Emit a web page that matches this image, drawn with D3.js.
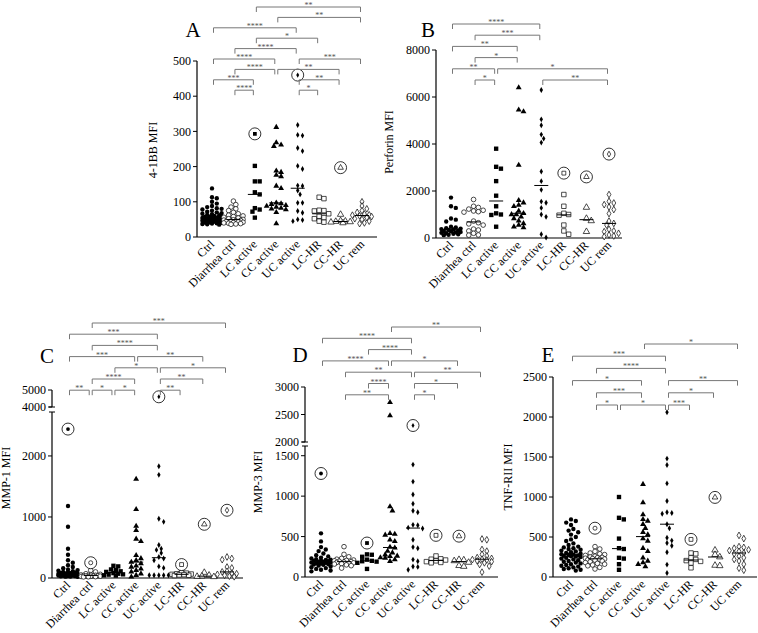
<!DOCTYPE html>
<html>
<head>
<meta charset="utf-8">
<script src="https://cdn.jsdelivr.net/npm/d3@7"></script>
<style>
body { margin: 0; background: #fff; }
svg { display: block; }
text { font-family: "Liberation Serif", "DejaVu Serif", serif; }
</style>
</head>
<body>
<script>
var cats = ["Ctrl", "Diarrhea ctrl", "LC active", "CC active", "UC active", "LC-HR", "CC-HR", "UC rem"];

// 4-1BB
var bbVals = [
    [138,113,110,100,95,88,85,82,80,78,75,72,70,68,66,65,63,62,60,58,57,56,55,55,54,53,52,51,50,50,49,48,47,46,45,44,43,42,41,40,39,38,37,36,35],
    [102,92,85,80,75,70,66,62,60,58,56,54,52,50,49,48,47,46,45,44,43,42,41,40,39,38,37,36],
    [202,158,158,127,121,82,78,72,55],
    [312,268,262,258,188,184,176,172,145,138,97,95,93,90,88,85,82,80,78,70,38],
    [318,290,288,253,244,202,193,146,145,132,121,97,97,74,69,50,48,45],
    [113,109,76,75,74,66,59,55,52,45,42],
    [64,46,45,44,43,42,40],
    [100,88,80,75,70,65,63,62,60,58,55,52,50,45,40,38]
];
var bbOut = [null, null, 293, null, 460, null, 197, null];
var bbTicks = [0, 100, 200, 300, 400, 500];
var bbSig = [
    [[2,7,"**"]],
    [[3,7,"**"]],
    [[0,4,"****"]],
    [[2,5,"*"]],
    [[1,4,"****"]],
    [[0,3,"****"],[4,7,"***"]],
    [[1,3,"****"],[3,6,"**"]],
    [[0,2,"***"],[4,6,"**"]],
    [[1,2,"****"],[4,5,"*"]]
];

// Perforin
var pfVals = [
    [1720,1350,1280,830,780,700,480,450,420,400,380,360,340,320,300,280,260,240,220,200,180,160,140,120],
    [1640,1350,1300,1230,1180,1150,1120,1100,720,650,600,550,380,340,300,200,130,120],
    [3800,3030,2950,2420,1800,1350,1050,1000,980,480],
    [6400,5450,5380,3100,1600,1500,1400,1350,1150,1050,1000,1000,900,830,730,620,550,480,440],
    [6300,5050,4800,4400,4230,4060,2830,2420,2050,1550,1500,1280,1000,900,160,20],
    [1850,1350,1050,1000,970,550,300,160],
    [1300,830,730,270],
    [1850,1560,1490,1420,1320,1210,1040,720,620,550,370,300,270,200,130,85,60]
];
var pfOut = [null, null, null, null, null, 2760, 2600, 3570];
var pfTicks = [0, 2000, 4000, 6000, 8000];
var pfSig = [
    [[0,4,"****"]],
    [[1,4,"***"]],
    [[0,3,"**"]],
    [[1,3,"*"]],
    [[0,2,"**"],[2,7,"*"]],
    [[1,2,"*"],[4,7,"**"]]
];

// MMP-1
var m1Vals = [
    [1180,840,480,380,290,250,210,180,160,140,130,120,110,100,95,90,85,80,75,70,65,60,58,55,52,50,48,45,42,40,38,35,32,30,28,25,22,20],
    [220,125,100,70,60,55,50,45,42,40,38,35,32,30,28,25,22,20,18],
    [200,190,140,130,110,100,80,70,60,55,45,40],
    [1620,1125,850,780,640,600,370,320,290,260,235,200,180,150,125,100,70,45,20],
    [1830,1690,970,920,540,480,460,410,345,320,290,190,165,45,45,45,45,45],
    [90,80,70,65,60,55,50,45,40],
    [90,45,30,25,20],
    [345,320,300,180,165,110,100,80,70,60,45,30,20]
];
var m1Out = [2440, 250, null, null, 4600, 220, 880, 1110];
var m1TicksLow = [0, 1000, 2000];
var m1TicksHigh = [4000, 5000];
var m1Sig = [
    [[1,7,"***"]],
    [[0,4,"***"]],
    [[1,4,"****"]],
    [[0,3,"***"],[3,6,"**"]],
    [[2,4,"*"],[4,7,"*"]],
    [[1,3,"****"],[4,6,"**"]],
    [[0,1,"**"],[1,2,"*"],[2,3,"*"],[4,5,"**"]]
];

// MMP-3
var m3Vals = [
    [540,440,370,340,320,290,270,255,240,230,220,215,210,205,200,195,190,185,180,178,175,170,165,160,155,150,140,130,120,110,100,90,80,70],
    [375,280,250,230,220,210,205,200,195,190,185,180,175,170,165,160,150,140,110],
    [280,275,250,215,200,195,190,175,100],
    [2720,2480,870,820,540,530,520,460,440,370,360,320,300,275,260,255,240,235,215,195],
    [1390,1180,1020,905,820,800,645,640,610,600,460,370,355,215,195,130,125,90],
    [260,225,220,210,200,190,180,175],
    [215,210,200,180,140,130],
    [470,460,340,320,280,260,240,230,220,215,210,200,190,175,155,135,60]
];
var m3Out = [1280, null, 420, null, 2300, 515, 505, null];
var m3TicksLow = [0, 500, 1000, 1500];
var m3TicksHigh = [2000, 2500, 3000];
var m3Sig = [
    [[3,7,"**"]],
    [[0,4,"****"]],
    [[2,4,"****"]],
    [[0,3,"****"],[3,6,"*"]],
    [[1,4,"**"],[4,7,"**"]],
    [[2,3,"****"],[4,6,"*"]],
    [[1,3,"**"],[4,5,"*"]]
];

// TNF-RII
var tnVals = [
    [720,700,680,650,600,580,560,530,500,470,450,420,400,380,370,360,350,340,330,320,310,300,290,285,280,275,270,265,260,255,250,240,230,220,210,200,190,180,170,160,150,140,130,120,110,100,90,80],
    [380,350,320,300,290,280,270,260,250,245,240,235,230,225,220,215,210,200,190,180,170,160,150,140,120,100],
    [1000,740,720,480,360,350,240,230,160,90],
    [1160,930,780,720,700,660,610,560,530,480,450,360,320,240,200,180,160,130],
    [2060,1480,1400,1170,950,810,800,790,660,610,490,455,425,390,310,155,50],
    [300,290,240,220,205,195,175,115],
    [335,280,250,145,140],
    [520,480,380,370,360,340,330,320,300,290,260,240,220,200,160,110,85]
];
var tnOut = [null, 610, null, null, null, 470, 995, null];
var tnTicks = [0, 500, 1000, 1500, 2000, 2500];
var tnSig = [
    [[3,7,"*"]],
    [[0,4,"***"]],
    [[1,4,"****"]],
    [[0,3,"*"],[4,7,"**"]],
    [[1,3,"***"],[4,6,"*"]],
    [[1,2,"*"],[2,4,"*"],[4,5,"***"]]
];

// marker per group: symbol + filled or open
var marks = [
    {t: d3.symbolCircle, fill: true, s: 15},
    {t: d3.symbolCircle, fill: false, s: 17},
    {t: d3.symbolSquare, fill: true, s: 19},
    {t: d3.symbolTriangle, fill: true, s: 15},
    {t: d3.symbolDiamond, fill: true, s: 10},
    {t: d3.symbolSquare, fill: false, s: 20},
    {t: d3.symbolTriangle, fill: false, s: 18},
    {t: d3.symbolDiamond, fill: false, s: 13}
];

var panels = [
    {letter: "A", label: "4-1BB MFI", vals: bbVals, out: bbOut, sig: bbSig,
     segs: [{dom: [0, 500], rng: [237, 61], ticks: bbTicks}],
     xr: [212, 362], ax: 197, axEnd: 377, sigTop: 7, sigStep: 10.4,
     lx: 193, ly: 37, yl: [157, 150]},
    {letter: "B", label: "Perforin MFI", vals: pfVals, out: pfOut, sig: pfSig,
     segs: [{dom: [0, 8000], rng: [238, 50], ticks: pfTicks}],
     xr: [451, 609], ax: 436, axEnd: 622, sigTop: 24, sigStep: 11.2,
     lx: 428, ly: 37, yl: [393, 142]},
    {letter: "C", label: "MMP-1 MFI", vals: m1Vals, out: m1Out, sig: m1Sig,
     segs: [{dom: [0, 2720], rng: [578, 412], ticks: m1TicksLow},
            {dom: [4000, 5000], rng: [407, 390], ticks: m1TicksHigh}],
     xr: [68, 227], ax: 52, axEnd: 243, sigTop: 323, sigStep: 11.2,
     lx: 47, ly: 363, yl: [10, 478]},
    {letter: "D", label: "MMP-3 MFI", vals: m3Vals, out: m3Out, sig: m3Sig,
     segs: [{dom: [0, 1620], rng: [577, 446], ticks: m3TicksLow},
            {dom: [2000, 3000], rng: [442, 387], ticks: m3TicksHigh}],
     xr: [321, 482], ax: 305, axEnd: 498, sigTop: 327, sigStep: 11.3,
     lx: 300, ly: 362, yl: [262, 482]},
    {letter: "E", label: "TNF-RII MFI", vals: tnVals, out: tnOut, sig: tnSig,
     segs: [{dom: [0, 2500], rng: [577, 377], ticks: tnTicks}],
     xr: [571, 739], ax: 553, axEnd: 757, sigTop: 344, sigStep: 12.2,
     lx: 548, ly: 362, yl: [512, 477]}
];

var svg = d3.select("body").append("svg")
    .attr("width", 758)
    .attr("height", 633);

function swarm(pts, cx, step, minD, maxW) {
    var placed = [];
    pts.sort(function(a, b) { return a.y - b.y; });
    pts.forEach(function(p) {
        var best = cx, bestD = -1;
        var n = Math.floor(maxW / step);
        for (var k = 0; k <= 2 * n; k++) {
            var off = (k % 2 ? 1 : -1) * Math.ceil(k / 2) * step;
            var x = cx + off;
            var d = d3.min(placed, function(q) { return Math.hypot(q.x - x, q.y - p.y); });
            if (d === undefined || d >= minD) { best = x; bestD = 99; break; }
            if (d > bestD) { bestD = d; best = x; }
        }
        p.x = best;
        placed.push(p);
    });
    return pts;
}

panels.forEach(function(P) {
    var g = svg.append("g");
    var scales = P.segs.map(function(s) {
        return d3.scaleLinear().domain(s.dom).range(s.rng);
    });
    var y = function(v) {
        for (var i = 0; i < scales.length; i++) {
            var d = scales[i].domain();
            if (v <= d[1] || i === scales.length - 1) return scales[i](v);
        }
    };
    var x = d3.scalePoint().domain(cats).range(P.xr);
    var y0 = P.segs[0].rng[0];

    // y axis segments
    P.segs.forEach(function(s, i) {
        var sc = scales[i];
        g.append("line")
            .attr("x1", P.ax).attr("x2", P.ax)
            .attr("y1", s.rng[0]).attr("y2", s.rng[1])
            .attr("stroke", "#000").attr("stroke-width", 1.2);
        var tk = s.ticks.slice();
        g.selectAll(null).data(tk).enter().append("line")
            .attr("x1", P.ax - 4).attr("x2", P.ax)
            .attr("y1", function(d) { return sc(d); })
            .attr("y2", function(d) { return sc(d); })
            .attr("stroke", "#000");
        g.selectAll(null).data(tk).enter().append("text")
            .attr("x", P.ax - 6)
            .attr("y", function(d) { return sc(d); })
            .attr("dy", "0.35em")
            .attr("text-anchor", "end")
            .attr("font-size", 12)
            .text(function(d) { return d; });
        if (P.segs.length > 1) {
            // small end caps at the break
            var yb = i === 0 ? s.rng[1] : s.rng[0];
            g.append("line")
                .attr("x1", P.ax - 3).attr("x2", P.ax + 3)
                .attr("y1", yb).attr("y2", yb)
                .attr("stroke", "#000");
        }
    });

    // x axis
    g.append("line")
        .attr("x1", P.ax).attr("x2", P.axEnd)
        .attr("y1", y0).attr("y2", y0)
        .attr("stroke", "#000").attr("stroke-width", 1.2);

    g.selectAll(null).data(cats).enter().append("text")
        .attr("transform", function(d) {
            return "translate(" + (x(d) + 3) + "," + (y0 + 8) + ") rotate(-45)";
        })
        .attr("text-anchor", "end")
        .attr("font-size", 12)
        .text(function(d) { return d; });

    // panel letter and y label
    g.append("text")
        .attr("x", P.lx).attr("y", P.ly)
        .attr("text-anchor", "middle")
        .attr("font-size", 21)
        .text(P.letter);
    g.append("text")
        .attr("transform", "translate(" + P.yl[0] + "," + P.yl[1] + ") rotate(-90)")
        .attr("text-anchor", "middle")
        .attr("font-size", 12)
        .text(P.label);

    // points
    P.vals.forEach(function(vals, ci) {
        var cx = x(cats[ci]);
        var m = marks[ci];
        var pts = vals.map(function(v) { return {v: v, y: y(v)}; });
        swarm(pts, cx, 2.4, 4.2, 10);
        var sym = d3.symbol().type(m.t).size(m.s);
        g.selectAll(null).data(pts).enter().append("path")
            .attr("d", sym)
            .attr("transform", function(d) { return "translate(" + d.x + "," + d.y + ")"; })
            .attr("fill", m.fill ? "#000" : "#fff")
            .attr("stroke", "#000")
            .attr("stroke-width", m.fill ? 0 : 0.7);

        // median
        var med = d3.median(vals);
        g.append("line")
            .attr("x1", cx - 7).attr("x2", cx + 7)
            .attr("y1", y(med)).attr("y2", y(med))
            .attr("stroke", "#000").attr("stroke-width", 1);

        // circled outlier
        var o = P.out[ci];
        if (o != null) {
            g.append("circle")
                .attr("cx", cx).attr("cy", y(o)).attr("r", 6)
                .attr("fill", "#fff").attr("stroke", "#000").attr("stroke-width", 0.8);
            g.append("path")
                .attr("d", d3.symbol().type(m.t).size(m.s * 0.75))
                .attr("transform", "translate(" + cx + "," + y(o) + ")")
                .attr("fill", m.fill ? "#000" : "#fff")
                .attr("stroke", "#000")
                .attr("stroke-width", m.fill ? 0 : 0.7);
        }
    });

    // significance brackets
    P.sig.forEach(function(row, ri) {
        var yy = P.sigTop + ri * P.sigStep;
        row.forEach(function(c) {
            var xa = x(cats[c[0]]) + 1.5, xb = x(cats[c[1]]) - 1.5;
            g.append("path")
                .attr("d", "M" + xa + "," + (yy + 5) + "V" + yy + "H" + xb + "V" + (yy + 5))
                .attr("fill", "none")
                .attr("stroke", "#777")
                .attr("stroke-width", 1);
            g.append("text")
                .attr("x", (xa + xb) / 2).attr("y", yy + 1)
                .attr("text-anchor", "middle")
                .attr("font-size", 8)
                .attr("fill", "#555")
                .text(c[2]);
        });
    });
});
</script>
</body>
</html>
